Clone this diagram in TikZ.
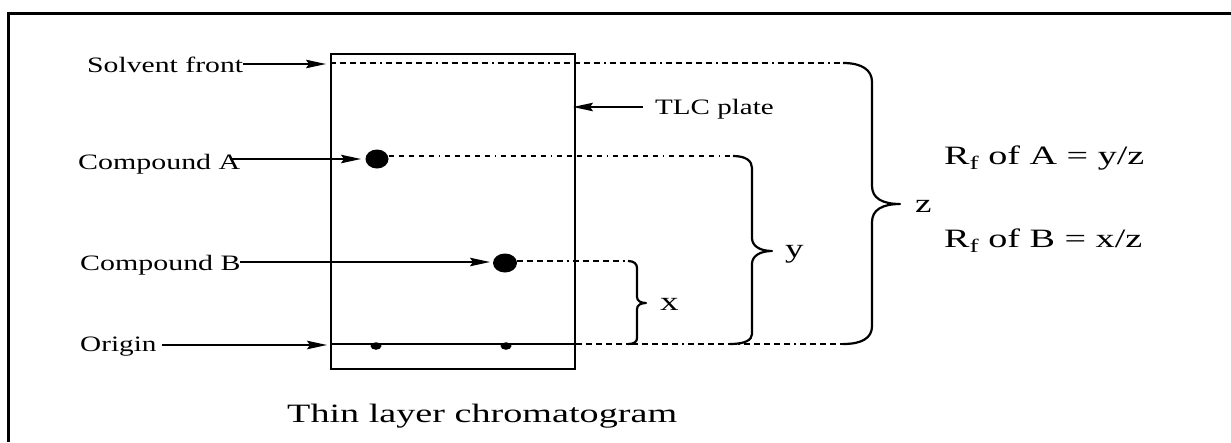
\documentclass[tikz,border=0pt]{standalone}
\usepackage{fontspec}
\setmainfont{Liberation Serif}
\usetikzlibrary{arrows.meta,shapes.geometric}
\newcommand\wide[2]{\scalebox{#1}[1]{#2}}
\tikzset{
  lbl/.style={inner sep=0pt, font=\fontsize{22}{25}\selectfont, anchor=base west},
  big/.style={inner sep=0pt, font=\fontsize{26.5}{30}\selectfont, anchor=base west},
  arr/.style={line width=1.6pt, -{Stealth[length=20pt,width=8.5pt,inset=3pt]}},
  dots/.style={line width=1.5pt, dash pattern=on 5.5pt off 4.5pt on 5.5pt off 4.5pt on 5.5pt off 4.5pt on 5.5pt off 4.5pt on 5.5pt off 4.5pt on 1.5pt off 4.5pt},
  bracepath/.style={line width=2.2pt, line join=round},
  spot/.style={ellipse, fill=black, inner sep=0pt},
  platebox/.style={draw, line width=2pt, inner sep=0pt, anchor=north west, minimum width=244pt, minimum height=315pt},
}
\begin{document}
\begin{tikzpicture}[x=1pt, y=-1pt]
\useasboundingbox (0,0) rectangle (1231,442);
% outer frame
\draw[line width=3pt] (8,442) -- (8,13) -- (1231,13);
% plate
\node[platebox] (plate) at (330,53) {};
% spots
\node[spot, minimum width=23pt, minimum height=19pt] (spotA) at (377,159) {};
\node[spot, minimum width=24pt, minimum height=19pt] (spotB) at (505,263) {};
\node[spot, minimum width=11pt, minimum height=7.5pt] (oA) at (376,346) {};
\node[spot, minimum width=11pt, minimum height=7.5pt] (oB) at (506,346) {};
% labels
\node[lbl] (sf) at (87,72.5) {\wide{1.35}{Solvent front}};
\node[lbl] (ca) at (78,169) {\wide{1.36}{Compound A}};
\node[lbl] (cb) at (80,270.5) {\wide{1.36}{Compound B}};
\node[lbl] (og) at (80,351.5) {\wide{1.33}{Origin}};
\node[lbl] (tlc) at (655,114) {\wide{1.32}{TLC plate}};
\node[big] (cap) at (287,422) {\wide{1.44}{Thin layer chromatogram}};
\node[big] (rfa) at (944,164) {\wide{1.44}{R\raisebox{-5pt}{\fontsize{19}{19}\selectfont f} of A = y/z}};
\node[big] (rfb) at (944,247) {\wide{1.44}{R\raisebox{-5pt}{\fontsize{19}{19}\selectfont f} of B = x/z}};
\node[big] (zl) at (915,212) {\wide{1.4}{z}};
\node[big] (yl) at (785,257) {\wide{1.4}{y}};
\node[big] (xl) at (660,310) {\wide{1.4}{x}};
% coordinates
\coordinate (sfS) at (243,64);  \coordinate (sfE) at (326,64);
\coordinate (caS) at (230,159); \coordinate (caE) at (361,159);
\coordinate (cbS) at (240,262); \coordinate (cbE) at (490,262);
\coordinate (ogS) at (162,345); \coordinate (ogE) at (327,345);
\coordinate (tlcS) at (643,107); \coordinate (tlcE) at (573,107);
\coordinate (zt) at (843,63);  \coordinate (zb) at (843,344);
\coordinate (yt) at (733,156); \coordinate (yb) at (730,344);
\coordinate (xt) at (628,261); \coordinate (xb) at (628,344);
% arrows
\draw[arr] (sfS) -- (sfE);
\draw[arr] (caS) -- (caE);
\draw[arr] (cbS) -- (cbE);
\draw[arr] (ogS) -- (ogE);
\draw[arr] (tlcS) -- (tlcE);
% origin line
\draw[line width=1.8pt] (plate.west |- 0,344) -- (plate.east |- 0,344);
% dotted lines
\draw[dots] (plate.west |- zt) -- (zt);
\draw[dots] (spotA.east |- yt) -- (yt);
\draw[dots] (spotB.east |- xt) -- (xt);
\draw[dots] (plate.east |- zb) -- (zb);
% braces
\draw[bracepath] (zt) .. controls (862,63) and (872,70) .. (872,82) -- (872,186)
  .. controls (872,198) and (882,204) .. (900,204)
  .. controls (882,204) and (872,210) .. (872,222) -- (872,326)
  .. controls (872,338) and (862,344) .. (zb);
\draw[bracepath] (yt) .. controls (746,156) and (752,161) .. (752,168) -- (752,238)
  .. controls (752,246) and (760,251) .. (772,251)
  .. controls (760,251) and (752,256) .. (752,264) -- (752,334)
  .. controls (752,340) and (745,344) .. (yb);
\draw[bracepath] (xt) .. controls (634,261) and (637,264) .. (637,268) -- (637,297)
  .. controls (637,301) and (641,303) .. (646,303)
  .. controls (641,303) and (637,305) .. (637,309) -- (637,338)
  .. controls (637,342) and (634,344) .. (xb);
\end{tikzpicture}
\end{document}
